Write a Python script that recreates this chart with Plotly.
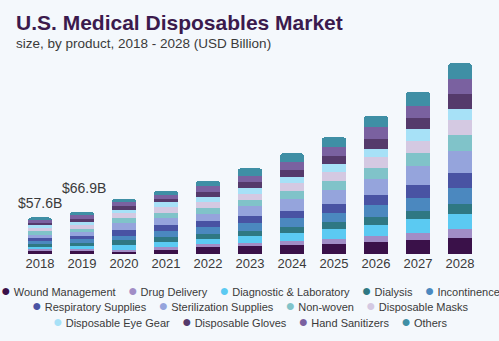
import plotly.graph_objects as go

# U.S. medical disposables market size by product (USD billion)
years = ["2018", "2019", "2020", "2021", "2022", "2023", "2024", "2025", "2026", "2027", "2028"]

wound_management = [5.3, 6.3, 3.2, 6.8, 11.0, 12.6, 13.7, 15.8, 18.4, 22.1, 25.7]
drug_delivery = [2.1, 2.1, 3.2, 3.7, 4.7, 5.3, 6.8, 7.9, 10.0, 10.5, 13.1]
diagnostic_laboratory = [3.2, 4.2, 7.9, 7.9, 8.4, 11.0, 13.1, 15.3, 17.4, 22.1, 24.7]
dialysis = [5.3, 5.3, 7.4, 7.9, 7.9, 7.9, 9.5, 11.6, 12.6, 13.7, 15.8]
incontinence = [5.3, 5.3, 6.8, 10.0, 10.5, 12.1, 14.2, 14.2, 18.9, 20.5, 25.2]
respiratory_supplies = [4.2, 5.3, 9.5, 9.5, 9.5, 11.6, 11.0, 14.7, 15.8, 19.5, 23.1]
sterilization_supplies = [5.3, 6.3, 10.5, 11.6, 10.5, 15.3, 17.9, 22.1, 25.8, 31.0, 35.2]
non_woven = [5.3, 4.2, 8.4, 7.9, 9.9, 8.9, 12.6, 14.2, 16.3, 20.0, 24.7]
disposable_masks = [5.8, 6.3, 7.4, 8.4, 9.5, 10.5, 12.6, 13.7, 17.9, 18.9, 23.7]
disposable_eye_gear = [3.2, 5.3, 5.3, 7.9, 7.9, 8.4, 9.5, 12.6, 12.1, 18.4, 17.9]
disposable_gloves = [4.2, 5.3, 6.3, 5.8, 7.9, 10.0, 12.1, 12.6, 16.8, 17.4, 22.6]
hand_sanitizers = [4.2, 5.3, 6.3, 5.8, 9.5, 10.0, 12.1, 13.7, 17.9, 19.5, 23.7]
others = [4.2, 5.7, 4.7, 6.8, 8.4, 11.6, 13.7, 15.8, 17.9, 22.6, 25.2]

labelled_years = ["2018", "2019"]
labelled_totals = [57.6, 66.9]

segments = [
    ("Wound Management", wound_management, "#3a1149"),
    ("Drug Delivery", drug_delivery, "#a18dc6"),
    ("Diagnostic & Laboratory", diagnostic_laboratory, "#5bcaf2"),
    ("Dialysis", dialysis, "#2f7883"),
    ("Incontinence", incontinence, "#4b88bf"),
    ("Respiratory Supplies", respiratory_supplies, "#4953a3"),
    ("Sterilization Supplies", sterilization_supplies, "#95a4dc"),
    ("Non-woven", non_woven, "#80c3c9"),
    ("Disposable Masks", disposable_masks, "#d4c9e2"),
    ("Disposable Eye Gear", disposable_eye_gear, "#a7e1f7"),
    ("Disposable Gloves", disposable_gloves, "#553a6b"),
    ("Hand Sanitizers", hand_sanitizers, "#7a61a0"),
    ("Others", others, "#3f8fa5"),
]

# page geometry (px)
W, H = 499, 341
M_L, M_R, M_T, M_B = 19, 18, 60, 87
PLOT_W = W - M_L - M_R
PLOT_H = H - M_T - M_B
BG = "#f4f8fc"
TEXT = "#3a3a3a"
FONT = "Liberation Sans"


def px_x(px):
    return (px - M_L) / PLOT_W


def px_y(py):
    return (H - M_B - py) / PLOT_H


fig = go.Figure()
for name, values, color in segments:
    fig.add_trace(go.Bar(
        x=years, y=values, name=name,
        marker=dict(color=color, line=dict(width=0)),
        showlegend=False,
        hovertemplate="%{x}: %{y}B<extra>" + name + "</extra>",
    ))

annotations = []

# value labels above the first two bars (x given as category index)
label_shift = {"2018": (0, 4), "2019": (2, 14)}
for yr, total in zip(labelled_years, labelled_totals):
    dx, dy = label_shift[yr]
    annotations.append(dict(
        x=years.index(yr), y=total, xref="x", yref="y", text=f"${total}B",
        showarrow=False, yanchor="bottom", xshift=dx, yshift=dy,
        font=dict(family=FONT, size=14, color=TEXT),
    ))

# title and subtitle
annotations.append(dict(
    x=px_x(14), y=px_y(22), xref="paper", yref="paper", xanchor="left", yanchor="middle",
    text="<b>U.S. Medical Disposables Market</b>", showarrow=False,
    font=dict(family=FONT, size=21, color="#3b1a4d"),
))
annotations.append(dict(
    x=px_x(14), y=px_y(43), xref="paper", yref="paper", xanchor="left", yanchor="middle",
    text="size, by product, 2018 - 2028 (USD Billion)", showarrow=False,
    font=dict(family=FONT, size=13.5, color=TEXT),
))

# legend rows, each centred
rows = [segments[0:5], segments[5:9], segments[9:13]]
row_y = [290, 305, 321]
NB = "\u00a0"
for row, py in zip(rows, row_y):
    items = [f"<span style='color:{c};font-size:16px'>●</span>{NB}{n}" for n, _, c in row]
    annotations.append(dict(
        x=0.5, y=px_y(py), xref="paper", yref="paper", xanchor="center", yanchor="middle",
        text=(NB * 4).join(items), showarrow=False,
        font=dict(family=FONT, size=11, color=TEXT),
    ))

fig.update_layout(
    width=W, height=H,
    margin=dict(l=M_L, r=M_R, t=M_T, b=M_B),
    paper_bgcolor=BG, plot_bgcolor=BG,
    barmode="stack", bargap=0.43, barcornerradius=3,
    font=dict(family=FONT, color=TEXT),
    xaxis=dict(
        type="category", range=[-0.5, len(years) - 0.5],
        showgrid=False, zeroline=False, showline=False,
        ticks="", tickfont=dict(family=FONT, size=13, color=TEXT),
    ),
    yaxis=dict(range=[0, 306], visible=False, showgrid=False),
    annotations=annotations,
    showlegend=False,
)

fig.write_html("out.html")
